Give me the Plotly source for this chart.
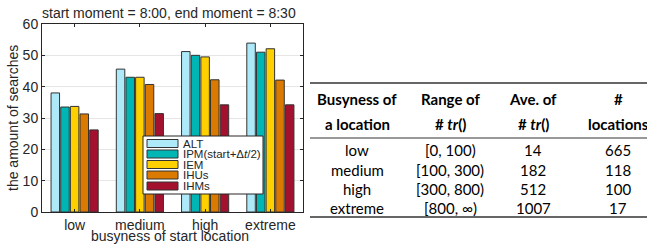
import plotly.graph_objects as go

W, H = 647, 244

categories = ["low", "medium", "high", "extreme"]
series_names = ["ALT", "IPM(start+Δ<i>t</i>/2)", "IEM", "IHUs", "IHMs"]
alt = [38.0, 45.6, 51.2, 53.9]
ipm = [33.5, 43.0, 50.0, 51.0]
iem = [33.7, 43.0, 49.5, 52.1]
ihus = [31.3, 40.7, 42.2, 42.1]
ihms = [26.2, 31.4, 34.2, 34.2]
series_values = [alt, ipm, iem, ihus, ihms]
colors = ["#aee9f9", "#00b6b4", "#ffd000", "#db7a00", "#a3112e"]
y_ticks = [0, 10, 20, 30, 40, 50, 60]

table_header1 = ["Busyness of", "Range of", "Ave. of", "#"]
table_header2 = ["a location", "# <i>tr</i>()", "# <i>tr</i>()", "locations"]
table_busyness = ["low", "medium", "high", "extreme"]
table_range = ["[0, 100)", "[100, 300)", "[300, 800)", "[800, ∞)"]
table_ave = ["14", "182", "512", "1007"]
table_count = ["665", "118", "100", "17"]

def px(x):
    return x / W

def py(y):
    return 1 - y / H

def label(fig, text, x, y, size=14, family=None, xanchor="center", angle=0, color="#262626"):
    f = dict(size=size, color=color)
    if family:
        f["family"] = family
    fig.add_annotation(text=text, x=px(x), y=py(y), xref="paper", yref="paper",
                       xanchor=xanchor, yanchor="middle", showarrow=False,
                       textangle=angle, font=f)

fig = go.Figure()
for name, vals, c in zip(series_names, series_values, colors):
    fig.add_trace(go.Bar(
        x=categories, y=vals, name=name,
        marker=dict(color=c, line=dict(color="#333333", width=1)),
    ))

ax_l, ax_r, ax_t, ax_b = 42, 303, 24, 212
fig.update_layout(
    width=W, height=H,
    margin=dict(l=0, r=0, t=0, b=0, autoexpand=False),
    paper_bgcolor="white", plot_bgcolor="white",
    barmode="group", bargap=0.26, bargroupgap=0.12,
    font=dict(family="Liberation Sans, Arial, sans-serif", color="#262626"),
    xaxis=dict(
        domain=[px(ax_l), px(ax_r)], showline=True, mirror="ticks",
        linecolor="#262626", linewidth=1, ticks="inside", ticklen=3,
        tickcolor="#262626", showgrid=False,
        tickfont=dict(size=14), anchor="y", automargin=False,
    ),
    yaxis=dict(
        domain=[py(ax_b), py(ax_t)], range=[0, 60], tickvals=y_ticks,
        showline=True, mirror="ticks", linecolor="#262626", linewidth=1,
        ticks="inside", ticklen=3, tickcolor="#262626",
        showgrid=True, gridcolor="#e6e6e6", zeroline=False,
        tickfont=dict(size=14), anchor="x", automargin=False,
    ),
    showlegend=False,
)

# chart title and axis labels
label(fig, "start moment = 8:00, end moment = 8:30", 169, 13)
label(fig, "busyness of start location", 170, 236)
label(fig, "the amount of searches", 13, 118, angle=-90)

# legend box (drawn manually to match compact MATLAB legend)
lg_l, lg_r, lg_t, lg_b = 143, 263, 136, 194
fig.add_shape(type="rect", xref="paper", yref="paper", x0=px(lg_l), x1=px(lg_r),
              y0=py(lg_b), y1=py(lg_t), fillcolor="white", line=dict(color="#262626", width=1),
              layer="above")
row_centers = [143.5, 154, 164.5, 175, 186]
for name, c, ry in zip(series_names, colors, row_centers):
    fig.add_shape(type="rect", xref="paper", yref="paper", x0=px(147), x1=px(178),
                  y0=py(ry + 4), y1=py(ry - 4), fillcolor=c,
                  line=dict(color="#333333", width=1), layer="above")
    label(fig, name, 181, ry, size=11.5, xanchor="left")

# table
tfont = "Lato, Open Sans, sans-serif"
col_x = [357, 450, 533, 618]
for cx, h1, h2 in zip(col_x, table_header1, table_header2):
    label(fig, "<b>%s</b>" % h1, cx, 99, size=15, family=tfont, color="black")
    label(fig, "<b>%s</b>" % h2, cx, 124, size=15, family=tfont, color="black")
row_y = [150, 170, 189, 208]
for i, ry in enumerate(row_y):
    for cx, col in zip(col_x, [table_busyness, table_range, table_ave, table_count]):
        label(fig, col[i], cx, ry, size=15, family=tfont, color="black")
for ly, lw in [(83, 1.5), (138, 1), (217, 1.5)]:
    fig.add_shape(type="line", xref="paper", yref="paper", x0=px(310), x1=1.0,
                  y0=py(ly), y1=py(ly), line=dict(color="#333333", width=lw))

fig.write_html("out.html", config={"displayModeBar": False},
               post_script="document.body.style.margin='0';")
